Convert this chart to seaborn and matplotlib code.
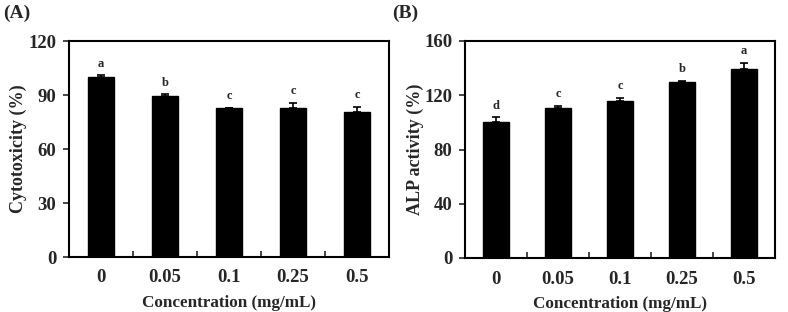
import matplotlib
matplotlib.use("Agg")
import matplotlib.pyplot as plt
import seaborn as sns
import pandas as pd
import numpy as np
from matplotlib.ticker import FixedLocator

sns.set_theme(style="ticks")
plt.rcParams['font.family'] = ['Liberation Serif', 'DejaVu Serif']
plt.rcParams['font.weight'] = 'bold'

categories = ["0", "0.05", "0.1", "0.25", "0.5"]

cyto_values = [100.0, 89.6, 83.0, 82.8, 80.5]
cyto_errors = [1.0, 0.8, 0.0, 3.0, 3.0]
cyto_letters = ["a", "b", "c", "c", "c"]

alp_values = [100.3, 110.8, 115.7, 130.0, 139.0]
alp_errors = [3.5, 1.5, 2.5, 0.5, 5.0]
alp_letters = ["d", "c", "c", "b", "a"]

fig = plt.figure(figsize=(7.88, 3.12), dpi=100)
axA = fig.add_axes([69/788, 1-257/312, (389-69)/788, (257-41)/312])
axB = fig.add_axes([465/788, 1-258/312, (775-465)/788, (258-41)/312])

def panel(ax, values, errors, letters, ylabel, ymax, step, ypad):
    df = pd.DataFrame({"Concentration": categories, "value": values})
    sns.barplot(data=df, x="Concentration", y="value", ax=ax, color="black",
                width=0.41, errorbar=None, saturation=1, edgecolor="black")
    x = np.arange(len(categories))
    ax.errorbar(x, values, yerr=[np.zeros(len(values)), errors], fmt="none",
                ecolor="black", elinewidth=1.2, capsize=3, capthick=1.2)
    for xi, v, e, l in zip(x, values, errors, letters):
        ax.annotate(l, (xi, v + e), xytext=(0, 4), textcoords="offset points",
                    ha="center", va="bottom", fontsize=9, fontweight="bold")
    ax.set_xlim(-0.5, len(categories) - 0.5)
    ax.set_ylim(0, ymax)
    ax.set_yticks(np.arange(0, ymax + 1, step))
    ax.tick_params(axis="y", direction="out", length=4, width=1.2,
                   labelsize=13.5, pad=5)
    ax.tick_params(axis="x", which="major", length=0, labelsize=13.5, pad=9)
    ax.xaxis.set_minor_locator(FixedLocator([0.5, 1.5, 2.5, 3.5]))
    ax.tick_params(axis="x", which="minor", direction="in", length=4, width=1.2)
    for lab in ax.get_xticklabels() + ax.get_yticklabels():
        lab.set_fontweight("bold")
    for s in ax.spines.values():
        s.set_visible(True)
        s.set_linewidth(1.5)
        s.set_color("black")
    ax.set_xlabel("Concentration (mg/mL)", fontsize=12.3, fontweight="bold", labelpad=6)
    ax.set_ylabel(ylabel, fontsize=13, fontweight="bold", labelpad=ypad)

panel(axA, cyto_values, cyto_errors, cyto_letters, "Cytotoxicity (%)", 120, 30, 1)
panel(axB, alp_values, alp_errors, alp_letters, "ALP activity (%)", 160, 40, 0)

fig.text(3/788, 1-13/312, "(A)", fontsize=14, fontweight="bold", va="center", ha="left")
fig.text(392/788, 1-13/312, "(B)", fontsize=14, fontweight="bold", va="center", ha="left")

fig.savefig("out.png", dpi=100)
